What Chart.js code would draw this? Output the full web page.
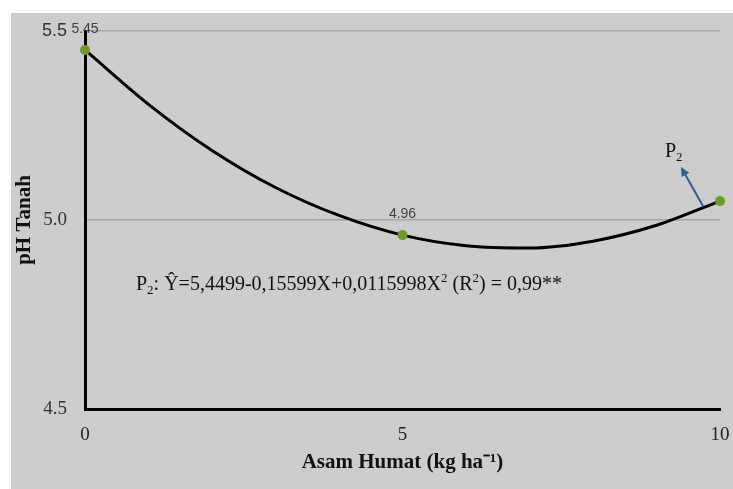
<!DOCTYPE html>
<html>
<head>
<meta charset="utf-8">
<script src="https://cdn.jsdelivr.net/npm/chart.js@4"></script>
<style>
  html, body { margin: 0; padding: 0; background: #fff; }
  #wrap { width: 733px; height: 489px; }
</style>
</head>
<body>
<div id="wrap"><canvas id="phChart" width="733" height="489"></canvas></div>
<script>
'use strict';

// observed points
const dosis = [0, 5, 10];
const phTanah = [5.45, 4.96, 5.05];
const phLabels = ['5.45', '4.96', ''];

// fitted curve at each kg
const trendX = [0, 1, 2, 3, 4, 5, 6, 7, 8, 9, 10];
const trendY = [5.450, 5.306, 5.184, 5.086, 5.012, 4.960, 4.932, 4.926, 4.944, 4.986, 5.050];

const xTicks = [0, 5, 10];
const yTicks = [4.5, 5.0, 5.5];

const SERIF = '"Liberation Serif", "Times New Roman", serif';
const SANS = '"Liberation Sans", "Open Sans", sans-serif';

// draw text with small sub/superscripts
function richText(ctx, parts, x, y, size) {
  let cx = x;
  parts.forEach(p => {
    const small = p.sub || p.sup;
    ctx.font = (small ? Math.round(size * 0.65) : size) + 'px ' + SERIF;
    const dy = p.sub ? size * 0.22 : (p.sup ? -size * 0.38 : 0);
    ctx.fillText(p.t, cx, y + dy);
    cx += ctx.measureText(p.t).width;
  });
}

const decor = {
  id: 'decor',
  beforeDraw(chart) {
    const c = chart.ctx;
    c.save();
    c.fillStyle = '#cdcdcd';
    c.fillRect(11, 13, chart.width - 11, chart.height - 13);
    c.restore();
  },
  afterDraw(chart) {
    const c = chart.ctx;
    const xs = chart.scales.x, ys = chart.scales.y;
    c.save();
    // point labels
    c.fillStyle = '#404040';
    c.font = '14px ' + SANS;
    c.textAlign = 'center';
    c.textBaseline = 'middle';
    dosis.forEach((d, i) => {
      if (!phLabels[i]) return;
      c.fillText(phLabels[i], xs.getPixelForValue(d), ys.getPixelForValue(phTanah[i]) - 21);
    });
    // equation
    c.textAlign = 'left';
    c.textBaseline = 'alphabetic';
    c.fillStyle = '#111';
    richText(c, [
      { t: 'P' }, { t: '2', sub: true },
      { t: ': Ŷ=5,4499-0,15599X+0,0115998X' }, { t: '2', sup: true },
      { t: ' (R' }, { t: '2', sup: true }, { t: ') = 0,99**' }
    ], 136, 290, 20);
    // P2 label
    richText(c, [{ t: 'P' }, { t: '2', sub: true }], 665, 157, 20);
    // arrow
    const px = xs.getPixelForValue(10), py = ys.getPixelForValue(5.05);
    const ax = px - 17, ay = py + 5;
    const bx = px - 39, by = py - 34;
    c.strokeStyle = '#2f5f98';
    c.fillStyle = '#2f5f98';
    c.lineWidth = 2;
    const ang = Math.atan2(by - ay, bx - ax);
    c.beginPath(); c.moveTo(ax, ay); c.lineTo(bx - 6 * Math.cos(ang), by - 6 * Math.sin(ang)); c.stroke();
    c.beginPath();
    c.moveTo(bx, by);
    c.lineTo(bx - 10 * Math.cos(ang - 0.45), by - 10 * Math.sin(ang - 0.45));
    c.lineTo(bx - 10 * Math.cos(ang + 0.45), by - 10 * Math.sin(ang + 0.45));
    c.closePath(); c.fill();
    c.restore();
  }
};

new Chart(document.getElementById('phChart').getContext('2d'), {
  type: 'line',
  data: {
    datasets: [
      { label: 'pH', data: dosis.map((d, i) => ({ x: d, y: phTanah[i] })), showLine: false, clip: false,
        pointRadius: 5, pointBackgroundColor: '#6e9a2a', pointBorderColor: '#6e9a2a', pointBorderWidth: 0 },
      { label: 'P2', data: trendX.map((d, i) => ({ x: d, y: trendY[i] })), borderColor: '#000', clip: false,
        borderWidth: 3, pointRadius: 0, tension: 0.4, cubicInterpolationMode: 'monotone', fill: false }
    ]
  },
  options: {
    responsive: false,
    animation: false,
    layout: { padding: { top: 31, right: 13, left: 0, bottom: 0 } },
    plugins: { legend: { display: false }, tooltip: { enabled: false } },
    scales: {
      x: {
        type: 'linear', min: 0, max: 10,
        afterBuildTicks: s => { s.ticks = xTicks.map(v => ({ value: v })); },
        afterFit: s => { s.height = 80; s.paddingLeft = 0; s.paddingRight = 0; },
        grid: { display: false, drawTicks: false },
        border: { display: true, color: '#000', width: 3 },
        ticks: { padding: 15, color: '#222', font: { family: SERIF, size: 19 } },
        title: { display: true, text: 'Asam Humat (kg ha⁻¹)', color: '#111',
          font: { family: SERIF, size: 21, weight: 'bold' }, padding: { top: 14, bottom: 14 } }
      },
      y: {
        min: 4.5, max: 5.5,
        afterBuildTicks: s => { s.ticks = yTicks.map(v => ({ value: v })); },
        afterFit: s => { s.width = 85; s.paddingTop = 0; s.paddingBottom = 0; },
        grid: { drawTicks: false, color: ctx => ctx.tick && ctx.tick.value === 4.5 ? 'rgba(0,0,0,0)' : '#a8a8a8', lineWidth: 1.5 },
        border: { display: true, color: '#000', width: 3 },
        ticks: {
          padding: 18, color: '#333',
          callback: v => Number(v).toFixed(1),
          font: ctx => ctx.tick && ctx.tick.value === 5.5 ? { family: SANS, size: 18 } : { family: SERIF, size: 19 }
        },
        title: { display: true, text: 'pH Tanah', color: '#111',
          font: { family: SERIF, size: 21, weight: 'bold' }, padding: { top: 12, bottom: 12 } }
      }
    }
  },
  plugins: [decor]
});
</script>
</body>
</html>
